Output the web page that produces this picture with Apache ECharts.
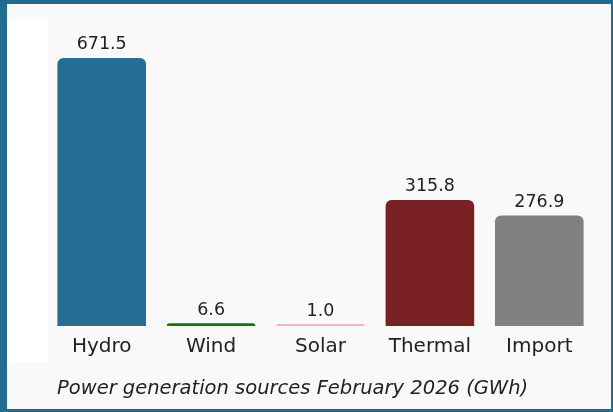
<!DOCTYPE html>
<html>
<head>
<meta charset="utf-8">
<script src="https://cdn.jsdelivr.net/npm/echarts@6/dist/echarts.min.js"></script>
<style>
html,body{margin:0;padding:0;}
#c{width:613px;height:412px;}
</style>
</head>
<body>
<div id="c"></div>
<script>
const categories = ['Hydro', 'Wind', 'Solar', 'Thermal', 'Import'];
const values = [671.5, 6.6, 1.0, 315.8, 276.9];
const barColors = ['#236e92', '#0a7a0a', '#f4b5b8', '#7a2126', '#808080'];
const caption = 'Power generation sources February 2026 (GWh)';

const FONT = 'DejaVu Sans';
const chart = echarts.init(document.getElementById('c'));
chart.setOption({
  backgroundColor: '#236a8f',
  animation: false,
  graphic: [
    { type: 'rect', z: -10, shape: { x: 7, y: 4, width: 604, height: 405 }, style: { fill: '#f9f9f9' } },
    { type: 'rect', z: -9, shape: { x: 7, y: 19, width: 41, height: 344 }, style: { fill: '#ffffff' } }
  ],
  title: {
    text: caption,
    left: 52,
    top: 374,
    textStyle: { fontFamily: FONT, fontStyle: 'italic', fontWeight: 'normal', fontSize: 19.5, color: '#222' }
  },
  grid: { left: 47, right: 19, top: 46.5, bottom: 86, containLabel: false },
  xAxis: {
    type: 'category',
    data: categories,
    axisLine: { show: false },
    axisTick: { show: false },
    axisLabel: { fontFamily: FONT, fontSize: 20, color: '#222', margin: 11 }
  },
  yAxis: {
    type: 'value',
    min: 0,
    max: 700,
    show: false,
    splitLine: { show: false }
  },
  series: [{
    type: 'bar',
    data: values.map((v, i) => ({ value: v, itemStyle: { color: barColors[i] } })),
    barCategoryGap: '19%',
    barMinHeight: 2,
    itemStyle: { borderRadius: [6, 6, 0, 0] },
    label: {
      show: true,
      position: 'top',
      distance: 4,
      formatter: p => p.value.toFixed(1),
      fontFamily: FONT,
      fontSize: 17.5,
      color: '#222'
    }
  }]
});
</script>
</body>
</html>
